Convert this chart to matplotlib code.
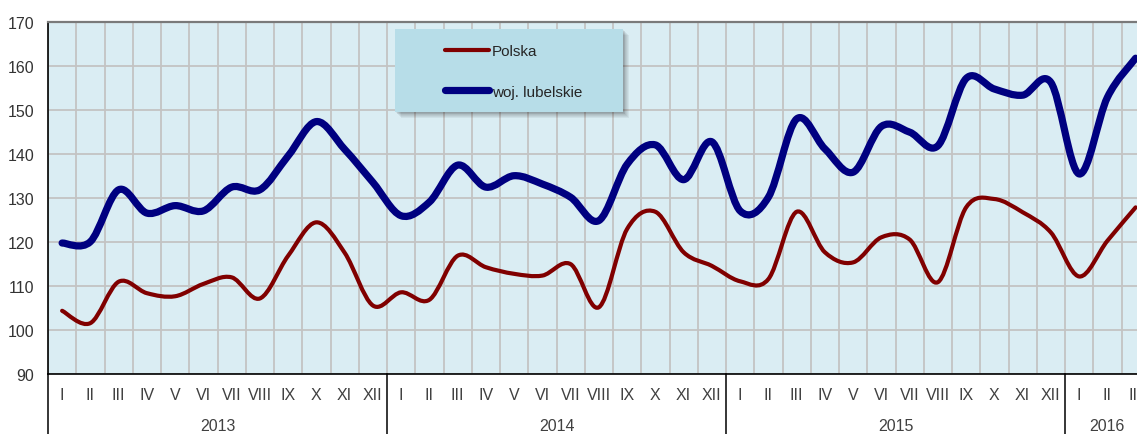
import numpy as np
import matplotlib
matplotlib.use("Agg")
import matplotlib.pyplot as plt
from matplotlib.path import Path
from matplotlib.patches import PathPatch, Rectangle
from matplotlib.lines import Line2D
import matplotlib.transforms as mtransforms

plt.rcParams['font.family'] = ['Liberation Sans', 'DejaVu Sans']

# ---- data ----
month_labels = (['I', 'II', 'III', 'IV', 'V', 'VI', 'VII', 'VIII', 'IX', 'X', 'XI', 'XII'] * 3
                + ['I', 'II', 'III'])
years = ['2013', '2014', '2015', '2016']
year_counts = [12, 12, 12, 3]

polska = [104.3, 101.5, 110.9, 108.3, 107.6, 110.4, 111.9, 107.1, 116.8, 124.4, 117.5, 105.5,
          108.5, 106.8, 116.8, 114.2, 112.7, 112.3, 114.9, 105.1, 122.9, 126.8, 117.6, 114.5,
          111.0, 111.5, 126.8, 117.6, 115.3, 121.0, 120.5, 110.8, 127.8, 129.7, 126.7, 122.1,
          112.1, 120.2, 127.8]
lubelskie = [119.7, 120.0, 131.8, 126.5, 128.2, 127.0, 132.4, 131.8, 139.5, 147.3, 141.0, 133.5,
             125.9, 129.0, 137.4, 132.4, 135.0, 133.1, 130.1, 124.8, 137.6, 142.0, 134.1, 142.7,
             127.0, 130.1, 147.9, 141.1, 135.8, 146.2, 144.9, 141.8, 157.1, 154.7, 153.3, 156.2,
             135.4, 152.8, 161.7]
series_names = ['Polska', 'woj. lubelskie']
series_colors = ['#800000', '#000080']
series_widths = [3.0, 5.2]


def smooth_path(xs, ys):
    pts = np.column_stack([xs, ys]).astype(float)
    n = len(pts)
    verts = [pts[0]]
    codes = [Path.MOVETO]
    for i in range(n - 1):
        p0 = pts[i - 1] if i > 0 else pts[i]
        p1 = pts[i]
        p2 = pts[i + 1]
        p3 = pts[i + 2] if i + 2 < n else pts[i + 1]
        c1 = p1 + (p2 - p0) / 6.0
        c2 = p2 - (p3 - p1) / 6.0
        verts += [c1, c2, p2]
        codes += [Path.CURVE4] * 3
    return Path(verts, codes)


W, H = 1137, 435
fig = plt.figure(figsize=(W / 100, H / 100), dpi=100)
left_px, right_px, top_px, bot_px = 48, 1149.75, 22.7, 374.7
ax = fig.add_axes([left_px / W, 1 - bot_px / H, (right_px - left_px) / W, (bot_px - top_px) / H])
ax.set_facecolor('#daedf3')

n = len(month_labels)
x = np.arange(n)
ax.set_xlim(-0.5, n - 0.5)
ax.set_ylim(90, 170)

# grid
ax.set_xticks(np.arange(-0.5, n, 1.0))
ax.set_xticklabels([])
ax.set_yticks(np.arange(90, 171, 10))
ax.grid(True, color='#c3c3c3', linewidth=1.3)
ax.set_axisbelow(True)
ax.tick_params(axis='both', length=0)
ax.tick_params(axis='y', pad=10, labelsize=11.5, labelcolor='#333333')

for s in ['right']:
    ax.spines[s].set_visible(False)
ax.spines['top'].set_color('#7a7a7a')
ax.spines['top'].set_linewidth(1.6)
ax.spines['left'].set_color('black')
ax.spines['left'].set_linewidth(1.2)
ax.spines['bottom'].set_color('black')
ax.spines['bottom'].set_linewidth(1.2)

# series (smoothed lines like the original)
for vals, col, lw in zip([polska, lubelskie], series_colors, series_widths):
    p = PathPatch(smooth_path(x, vals), facecolor='none', edgecolor=col, lw=lw,
                  capstyle='round', joinstyle='round', zorder=3)
    ax.add_patch(p)

# category axis labels
trans = mtransforms.blended_transform_factory(ax.transData, ax.transAxes)
for i, m in enumerate(month_labels):
    ax.text(i, -0.058, m, transform=trans, ha='center', va='center',
            fontsize=11.5, color='#404040', clip_on=False)
start = 0
bounds = [-0.5]
for yname, cnt in zip(years, year_counts):
    ax.text(start + (cnt - 1) / 2, -0.148, yname, transform=trans, ha='center', va='center',
            fontsize=11.5, color='#404040', clip_on=False)
    start += cnt
    bounds.append(start - 0.5)
for b in bounds[:-1]:
    ax.add_line(Line2D([b, b], [0, -0.2], transform=trans, color='black', lw=1.1, clip_on=False))

# legend box with soft shadow (figure pixel coords)
fx = lambda px: px / W
fy = lambda py: 1 - py / H
bx0, bx1, by0, by1 = 395, 623, 30, 113
for k in range(1, 8):
    fig.patches.append(Rectangle((fx(bx0 + k * 0.8), fy(by1 + k * 0.8)), (bx1 - bx0) / W, (by1 - by0) / H,
                                 transform=fig.transFigure, facecolor='black', alpha=0.05,
                                 edgecolor='none', zorder=2))
fig.patches.append(Rectangle((fx(bx0), fy(by1)), (bx1 - bx0) / W, (by1 - by0) / H,
                             transform=fig.transFigure, facecolor='#b7dde8', edgecolor='none', zorder=3))

handles = [Line2D([], [], color=c, lw=w, solid_capstyle='round') for c, w in zip(series_colors, series_widths)]
leg = fig.legend(handles, series_names, loc='upper left', bbox_to_anchor=(fx(445), fy(45)),
                 frameon=False, fontsize=11, handlelength=2.9, handletextpad=0.15,
                 labelspacing=1.75, borderpad=0, borderaxespad=0)
for t in leg.get_texts():
    t.set_color('#262626')
leg.set_zorder(4)

fig.savefig('out.png', dpi=100, facecolor='white')
